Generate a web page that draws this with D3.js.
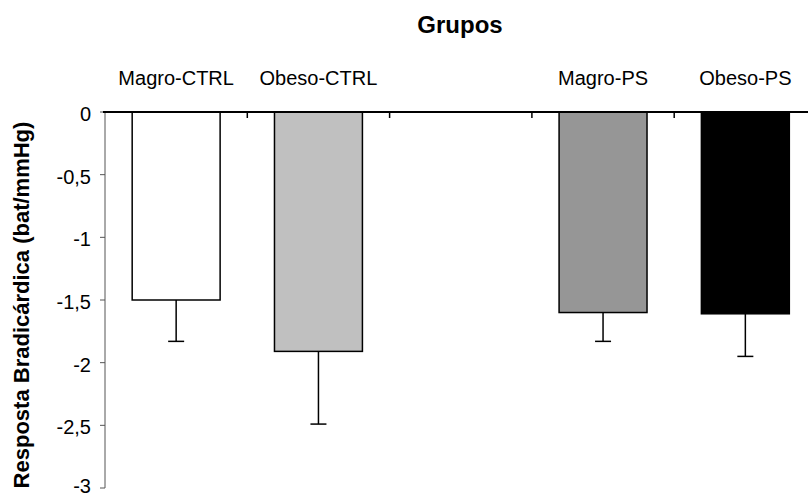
<!DOCTYPE html>
<html>
<head>
<meta charset="utf-8">
<script src="https://cdn.jsdelivr.net/npm/d3@7"></script>
<style>
  html, body { margin: 0; padding: 0; background: #fff; }
  svg { display: block; font-family: "Liberation Sans", Arial, sans-serif; }
</style>
</head>
<body>
<svg id="chart" width="808" height="498"></svg>
<script>
// Groups (an empty slot separates the CTRL and PS pairs)
const groups = ["Magro-CTRL", "Obeso-CTRL", "", "Magro-PS", "Obeso-PS"];
const means  = [-1.50, -1.91, null, -1.60, -1.61];
const sems   = [0.33, 0.58, null, 0.23, 0.34];
const fills  = ["#ffffff", "#c0c0c0", null, "#969696", "#000000"];
const yTicks = [0, -0.5, -1, -1.5, -2, -2.5, -3];
const yTickLabels = ["0", "-0,5", "-1", "-1,5", "-2", "-2,5", "-3"];

const svg = d3.select("#chart");
const width = 808, height = 498;
const plotLeft = 105, plotTop = 112, plotBottom = 488;
const step = 142.3;

const x = d3.scaleBand()
  .domain(groups.map((g, i) => i))
  .range([plotLeft, plotLeft + step * groups.length])
  .paddingInner(0.382)
  .paddingOuter(0.191);

const y = d3.scaleLinear().domain([0, -3]).range([plotTop, plotBottom]);

// Title
svg.append("text")
  .attr("x", 460).attr("y", 33)
  .attr("text-anchor", "middle")
  .attr("font-size", 24).attr("font-weight", "bold")
  .text("Grupos");

// Y axis
const yAxis = svg.append("g");
yAxis.append("line")
  .attr("x1", plotLeft).attr("x2", plotLeft)
  .attr("y1", y(0)).attr("y2", y(-3))
  .attr("stroke", "#555").attr("stroke-width", 1);
yAxis.selectAll("line.tick").data(yTicks).join("line")
  .attr("class", "tick")
  .attr("x1", plotLeft - 5).attr("x2", plotLeft)
  .attr("y1", d => y(d)).attr("y2", d => y(d))
  .attr("stroke", "#555").attr("stroke-width", 1);
// labels sit just below their tick; the lowest one is kept inside the frame
yAxis.selectAll("text").data(yTicks).join("text")
  .attr("x", 91).attr("y", d => Math.min(y(d) + 9, height - 5))
  .attr("text-anchor", "end")
  .attr("font-size", 20)
  .text((d, i) => yTickLabels[i]);

// Y axis title
svg.append("text")
  .attr("transform", "translate(29,305) rotate(-90)")
  .attr("text-anchor", "middle")
  .attr("font-size", 22).attr("font-weight", "bold")
  .text("Resposta Bradicárdica (bat/mmHg)");

// Bars
const idx = groups.map((g, i) => i).filter(i => means[i] !== null);
svg.selectAll("rect.bar").data(idx).join("rect")
  .attr("class", "bar")
  .attr("x", i => x(i))
  .attr("y", y(0))
  .attr("width", x.bandwidth())
  .attr("height", i => y(means[i]) - y(0))
  .attr("fill", i => fills[i])
  .attr("stroke", "#000").attr("stroke-width", 1.5);

// Error bars (downward)
const eb = svg.selectAll("g.err").data(idx).join("g").attr("class", "err");
eb.append("line")
  .attr("x1", i => x(i) + x.bandwidth() / 2).attr("x2", i => x(i) + x.bandwidth() / 2)
  .attr("y1", i => y(means[i])).attr("y2", i => y(means[i] - sems[i]))
  .attr("stroke", "#000").attr("stroke-width", 1.5);
eb.append("line")
  .attr("x1", i => x(i) + x.bandwidth() / 2 - 8).attr("x2", i => x(i) + x.bandwidth() / 2 + 8)
  .attr("y1", i => y(means[i] - sems[i])).attr("y2", i => y(means[i] - sems[i]))
  .attr("stroke", "#000").attr("stroke-width", 1.5);

// Top category axis at zero
svg.append("line")
  .attr("x1", plotLeft - 2).attr("x2", width)
  .attr("y1", y(0)).attr("y2", y(0))
  .attr("stroke", "#000").attr("stroke-width", 2);
const boundaries = groups.slice(0, -1).map((g, i) => x(i) + x.bandwidth() + x.step() * x.paddingInner() / 2);
svg.selectAll("line.ctick").data(boundaries).join("line")
  .attr("class", "ctick")
  .attr("x1", d => d).attr("x2", d => d)
  .attr("y1", y(0)).attr("y2", y(0) + 6)
  .attr("stroke", "#000").attr("stroke-width", 1.5);

// Group labels
svg.selectAll("text.cat").data(idx).join("text")
  .attr("class", "cat")
  .attr("x", i => x(i) + x.bandwidth() / 2)
  .attr("y", 85)
  .attr("text-anchor", "middle")
  .attr("font-size", 20)
  .text(i => groups[i]);
</script>
</body>
</html>
